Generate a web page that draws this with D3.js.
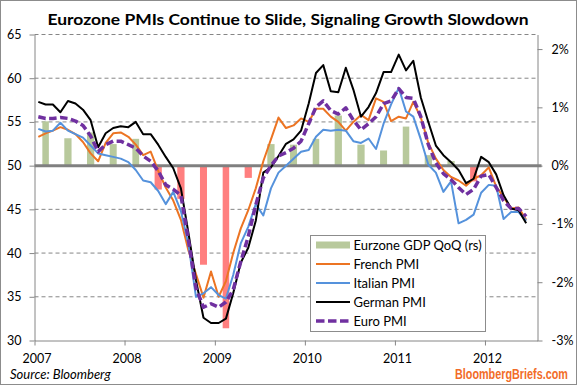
<!DOCTYPE html>
<html>
<head>
<meta charset="utf-8">
<script src="https://cdn.jsdelivr.net/npm/d3@7"></script>
<style>
body { margin: 0; background: #fff; }
svg { display: block; font-family: Lato, "Open Sans", sans-serif; }
</style>
</head>
<body>
<div id="chart"></div>
<script>
// Monthly PMI readings, Jan 2007 - Jun 2012
let months = d3.timeMonth.range(new Date(2007, 0, 1), new Date(2012, 6, 1));

let frenchPMI = [53.3,53.7,54.0,54.4,54.1,53.6,52.7,51.4,50.5,52.6,53.7,53.8,
	53.3,52.4,51.2,51.6,49.4,47.5,46.0,43.8,40.3,37.6,34.9,37.9,
	35.0,36.8,40.0,42.8,44.9,47.4,50.5,53.0,55.5,54.3,54.6,55.4,
	55.0,56.5,56.5,55.6,55.0,54.0,55.0,55.8,55.2,57.7,57.3,55.1,
	55.6,55.4,57.3,55.5,52.6,50.8,49.5,48.7,48.3,47.7,48.5,48.9,
	49.8,47.6,46.4,45.1,45.2,43.8];

let italianPMI = [54.2,53.9,54.0,54.9,54.0,53.6,53.2,52.3,51.4,51.2,51.0,50.8,
	50.4,49.5,48.3,48.1,47.1,45.6,47.0,44.8,41.0,35.0,35.4,36.1,
	35.2,34.8,37.5,41.1,43.0,45.6,44.3,47.4,49.2,50.0,50.8,51.6,
	51.8,53.3,54.1,54.0,54.1,54.0,52.8,52.6,53.1,51.9,54.8,57.0,
	58.9,56.2,55.6,53.0,50.1,49.2,47.0,48.2,43.4,43.8,44.4,46.9,
	47.8,47.7,43.9,44.7,44.7,43.7];

let germanPMI = [57.3,57.0,57.0,56.1,57.4,57.1,56.4,55.2,52.1,53.7,54.3,54.5,
	54.4,55.0,53.6,53.6,52.4,51.0,49.7,47.4,42.3,36.9,32.6,32.0,
	32.0,32.5,35.4,38.9,40.6,43.7,49.2,49.8,51.1,52.5,53.0,54.0,
	57.1,60.6,61.5,58.5,58.4,61.2,58.7,55.6,56.7,58.3,60.7,60.7,
	62.7,60.9,62.0,57.8,55.0,52.3,51.2,50.4,49.5,48.0,48.5,51.0,
	50.4,49.0,46.6,45.1,44.9,43.4];

let euroPMI = [55.6,55.4,55.4,55.5,55.4,55.1,54.6,53.4,51.6,52.4,52.8,52.8,
	52.4,52.0,51.1,50.5,49.4,47.8,47.3,46.6,41.5,36.0,33.8,34.2,
	33.8,34.4,35.8,39.0,41.9,45.5,48.6,50.0,51.1,51.5,52.0,52.8,
	54.8,56.7,57.4,56.3,55.9,56.6,55.2,54.1,54.8,55.6,57.1,57.4,
	58.8,57.8,57.7,55.6,52.4,50.3,49.1,48.4,47.5,46.7,47.3,48.8,
	49.0,47.5,46.0,45.1,45.1,44.2];

// Quarterly GDP, plotted at the middle month of each quarter
let gdpMonths = ['2007-02','2007-05','2007-08','2007-11','2008-02','2008-05','2008-08','2008-11',
	'2009-02','2009-05','2009-08','2009-11','2010-02','2010-05','2010-08','2010-11',
	'2011-02','2011-05','2011-08','2011-11','2012-02'];
let gdpQoQ = [0.76,0.47,0.57,0.37,0.46,-0.41,-0.57,-1.70,
	-2.79,-0.21,0.37,0.36,0.46,0.86,0.36,0.26,
	0.67,0.18,0.08,-0.27,0.0];

let yearTicks = [2007, 2008, 2009, 2010, 2011, 2012];
let leftTicks = [30, 35, 40, 45, 50, 55, 60, 65];
let rightTicks = [-3, -2, -1, 0, 1, 2];

let legendItems = ['Eurzone GDP QoQ (rs)', 'French PMI', 'Italian PMI', 'German PMI', 'Euro PMI'];

let width = 577;
let height = 385;
let plotLeft = 34.5;
let plotRight = 537.5;
let plotTop = 34.5;
let plotBottom = 340.5;

let svg = d3.select('#chart')
	.append('svg')
	.attr('width', width)
	.attr('height', height)

svg.append('rect')
	.attr('x', 0.5)
	.attr('y', 0.5)
	.attr('width', width - 1)
	.attr('height', height - 1)
	.attr('fill', '#fff')
	.attr('stroke', '#8c8c8c')

let x = d3.scaleTime()
	.domain([new Date(2007, 0, 1), new Date(2012, 7, 1)])
	.range([plotLeft, plotRight]);
let yL = d3.scaleLinear().domain([30, 65]).range([plotBottom, plotTop]);
let yR = d3.scaleLinear().domain([-3, 2.25]).range([plotBottom, plotTop]);

function xMid(m){
	return (x(m) + x(d3.timeMonth.offset(m, 1))) / 2;
}

// Gridlines
svg.append('g')
	.selectAll('line')
	.data(leftTicks.filter(function(d){ return d !== 30 && d !== 50; }))
	.enter()
	.append('line')
	.attr('x1', plotLeft)
	.attr('x2', plotRight)
	.attr('y1', function(d){ return yL(d); })
	.attr('y2', function(d){ return yL(d); })
	.attr('stroke', '#868686')
	.attr('stroke-dasharray', '4,3')

// GDP bars
let parseMonth = d3.timeParse('%Y-%m');
svg.append('g')
	.selectAll('rect')
	.data(gdpQoQ)
	.enter()
	.append('rect')
	.attr('x', function(d, i){ return x(parseMonth(gdpMonths[i])) + 0.2; })
	.attr('width', function(d, i){
		let m = parseMonth(gdpMonths[i]);
		return x(d3.timeMonth.offset(m, 1)) - x(m) - 0.4;
	})
	.attr('y', function(d){ return Math.min(yR(d), yR(0)); })
	.attr('height', function(d){ return Math.abs(yR(d) - yR(0)); })
	.attr('fill', function(d){ return d < 0 ? '#ff7f7f' : '#b8c99c'; })

// Axes
let axisColor = '#868686';
let leftAxis = svg.append('g')
	.attr('transform', 'translate(' + plotLeft + ',0)')
	.call(d3.axisLeft(yL).tickValues(leftTicks).tickSize(5).tickSizeOuter(0).tickPadding(8));
let rightAxis = svg.append('g')
	.attr('transform', 'translate(' + plotRight + ',0)')
	.call(d3.axisRight(yR).tickValues(rightTicks).tickSize(5).tickSizeOuter(0).tickPadding(9)
		.tickFormat(function(d){ return d + '%'; }));
let bottomAxis = svg.append('g')
	.attr('transform', 'translate(0,' + plotBottom + ')')
	.call(d3.axisBottom(x)
		.tickValues(yearTicks.map(function(y){ return new Date(y, 0, 1); }))
		.tickFormat(d3.timeFormat('%Y'))
		.tickSize(5).tickSizeOuter(0).tickPadding(9));

[leftAxis, rightAxis, bottomAxis].forEach(function(a){
	a.select('.domain').attr('stroke', axisColor);
	a.selectAll('.tick line').attr('stroke', axisColor);
	a.selectAll('text')
		.attr('font-family', 'Lato, sans-serif')
		.attr('font-size', 12.5)
		.attr('fill', '#000');
});
bottomAxis.selectAll('text').attr('dx', 2);

// Zero line shared by both axes
svg.append('line')
	.attr('x1', plotLeft)
	.attr('x2', plotRight + 4)
	.attr('y1', yR(0))
	.attr('y2', yR(0))
	.attr('stroke', '#808080')
	.attr('stroke-width', 3)

// PMI lines
let series = [
	{values: frenchPMI, color: '#ec7423', width: 2, dash: null},
	{values: italianPMI, color: '#5592dc', width: 2, dash: null},
	{values: germanPMI, color: '#000', width: 2, dash: null},
	{values: euroPMI, color: '#7030a0', width: 3.5, dash: '7.5,3.5'},
];
let lineBuild = d3.line()
	.x(function(d, i){ return xMid(months[i]); })
	.y(function(d){ return yL(d); });

series.forEach(function(s){
	svg.append('path')
		.attr('d', lineBuild(s.values))
		.attr('fill', 'none')
		.attr('stroke', s.color)
		.attr('stroke-width', s.width)
		.attr('stroke-linejoin', 'round')
		.attr('stroke-dasharray', s.dash)
});

// Legend
let legend = svg.append('g');
legend.append('rect')
	.attr('x', 310.5)
	.attr('y', 235.5)
	.attr('width', 175)
	.attr('height', 96)
	.attr('fill', '#fff')
	.attr('stroke', '#8c8c8c')

legendItems.forEach(function(name, i){
	let ly = 245 + i * 19;
	if(i === 0){
		legend.append('rect')
			.attr('x', 316)
			.attr('y', ly - 3.5)
			.attr('width', 34)
			.attr('height', 7)
			.attr('fill', '#b8c99c')
	}else{
		let s = series[i - 1];
		legend.append('line')
			.attr('x1', 316)
			.attr('x2', 350)
			.attr('y1', ly)
			.attr('y2', ly)
			.attr('stroke', s.color)
			.attr('stroke-width', s.width)
			.attr('stroke-dasharray', s.dash ? '8.5,3.5' : null)
	}
	legend.append('text')
		.text(name)
		.attr('x', 353.5)
		.attr('y', ly)
		.attr('dy', '0.35em')
		.attr('font-size', 13)
});

// Titles and notes
svg.append('text')
	.text('Eurozone PMIs Continue to Slide, Signaling Growth Slowdown')
	.attr('x', 288)
	.attr('y', 25)
	.attr('text-anchor', 'middle')
	.attr('font-weight', 'bold')
	.attr('font-size', 16)
	.attr('textLength', 481)
	.attr('lengthAdjust', 'spacingAndGlyphs')

svg.append('text')
	.text('Source: Bloomberg')
	.attr('x', 10)
	.attr('y', 379)
	.attr('font-style', 'italic')
	.attr('font-size', 13)

// Brand mark, squeezed horizontally to a condensed look
let brand = svg.append('g');
let brandText = brand.append('text')
	.text('BloombergBriefs.com')
	.attr('x', 0)
	.attr('y', 0)
	.attr('font-family', '"Liberation Sans", sans-serif')
	.attr('font-weight', 'bold')
	.attr('font-size', 14)
	.attr('fill', '#f26c28')
let brandLen = brandText.node().getComputedTextLength();
brand.attr('transform', 'translate(455,379) scale(' + (113 / brandLen) + ',1)');
</script>
</body>
</html>
